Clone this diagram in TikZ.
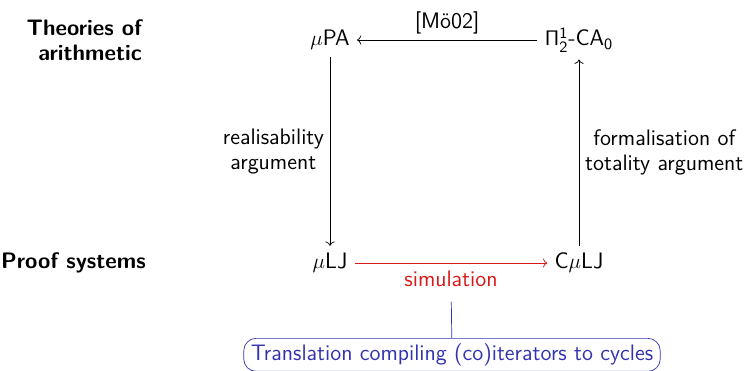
\documentclass[tikz,border=0pt]{standalone}
\usepackage{amsmath, amssymb}
\usepackage{tikz}
\usetikzlibrary{arrows.meta, positioning}
\definecolor{SS}{rgb}{0.2,0.2,0.7}
\definecolor{RR}{rgb}{0.85,0.1,0.1}
\tikzset{
    arrow/.style={->},
    heading/.style={font=\fontsize{12.75}{14.4}\selectfont\sffamily\bfseries, align=right, anchor=east},
}

\begin{document}
\begin{tikzpicture}[
  x=0.02cm, y=-0.02cm, % pixel-like units
  every node/.style={font=\fontsize{12.75}{14.4}\selectfont\sffamily},
  obj/.style={inner sep=4pt},
  simLabel/.style={text=RR},
  noteBox/.style={draw=SS, text=SS, rounded corners=7pt, inner xsep=4pt, inner ysep=3pt, anchor=north},
  ]
\useasboundingbox (0,0) rectangle (753,370);

\node[heading] (thy) at (148,40) {Theories of\\arithmetic};
\node[heading] (prf) at (152,263) {Proof systems};

\node[obj] (mupa) at (330,40) {$\mu$PA};
\node[obj] (pica) at (579,40) {$\mathsf{\Pi^1_2}$-CA$_{\mathsf{0}}$};
\node[obj] (mulj) at (330,263) {$\mu$LJ};
\node[obj] (cmulj) at (579,263) {C$\mu$LJ};

\draw[arrow] (pica) -- node[above] {[Mö02]} (mupa);
\draw[arrow] (mupa) -- node[left, align=center] {realisability\\argument} (mulj);
\draw[arrow] (cmulj) -- node[right, align=center] {formalisation of\\totality argument} (pica);
\draw[arrow, RR] (mulj) -- node[below=1pt, simLabel] (sim) {simulation} (cmulj);

\node[noteBox] (note) at (452,338) {Translation compiling (co)iterators to cycles};
\draw[SS, shorten <=5pt] (sim) -- (note);

\end{tikzpicture}
\end{document}
